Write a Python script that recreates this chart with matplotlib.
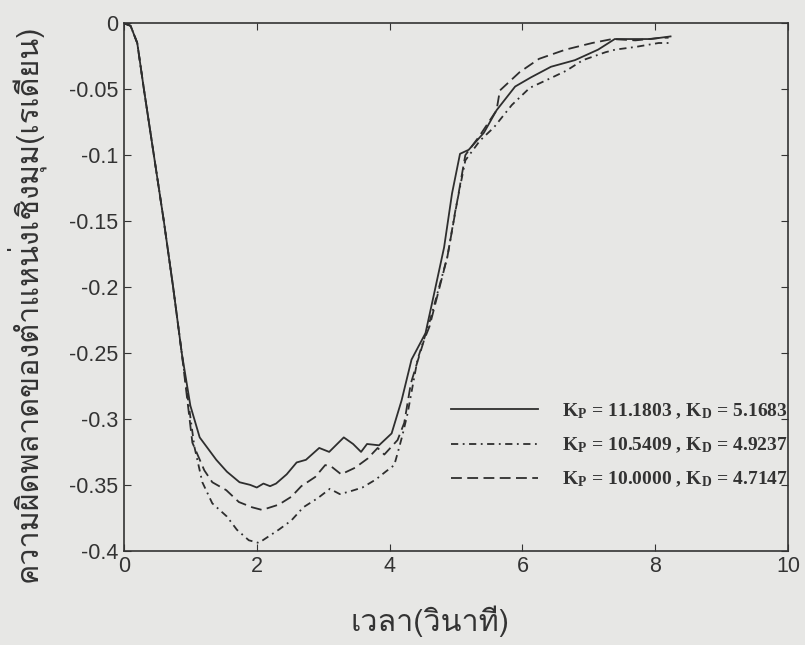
import matplotlib
matplotlib.use('Agg')
import matplotlib.pyplot as plt
from matplotlib import font_manager, ft2font

# Data (time in s, angular position error in rad)
t_solid = [0, 0.1, 0.2, 0.3, 0.45, 0.6, 0.74, 0.87, 1.0, 1.14, 1.39, 1.55, 1.74, 1.9, 2.0, 2.1, 2.2, 2.29,
           2.45, 2.6, 2.74, 2.94, 3.09, 3.31, 3.45, 3.57, 3.66, 3.84, 4.03, 4.18, 4.33, 4.54, 4.67,
           4.82, 4.94, 5.06, 5.19, 5.42, 5.61, 5.89, 6.13, 6.43, 6.79, 7.14, 7.39, 7.93, 8.23]
e_solid = [0, -0.002, -0.015, -0.05, -0.1, -0.15, -0.2, -0.25, -0.29, -0.314, -0.331, -0.34, -0.348, -0.35,
           -0.352, -0.349, -0.351, -0.349, -0.342, -0.333, -0.331, -0.322, -0.325, -0.314, -0.319, -0.325,
           -0.319, -0.320, -0.311, -0.286, -0.255, -0.235, -0.205, -0.170, -0.129, -0.099, -0.096, -0.083,
           -0.066, -0.048, -0.041, -0.033, -0.028, -0.020, -0.012, -0.012, -0.010]

t_dashdot = [0, 0.1, 0.2, 0.3, 0.45, 0.6, 0.74, 0.87, 1.06, 1.18, 1.33, 1.55, 1.70, 1.88, 2.03, 2.18, 2.33,
             2.52, 2.70, 2.92, 3.10, 3.25, 3.40, 3.59, 3.79, 3.94, 4.07, 4.12, 4.19, 4.27, 4.42, 4.61,
             4.87, 4.99, 5.14, 5.36, 5.57, 5.84, 6.11, 6.41, 6.66, 6.91, 7.25, 7.4, 7.7, 8.05, 8.2]
e_dashdot = [0, -0.002, -0.015, -0.05, -0.1, -0.15, -0.2, -0.25, -0.321, -0.348, -0.364, -0.374, -0.384,
             -0.392, -0.394, -0.389, -0.384, -0.377, -0.367, -0.360, -0.353, -0.357, -0.355, -0.352, -0.346,
             -0.340, -0.335, -0.326, -0.313, -0.296, -0.255, -0.225, -0.177, -0.142, -0.104, -0.089,
             -0.079, -0.062, -0.049, -0.042, -0.036, -0.028, -0.022, -0.020, -0.018, -0.015, -0.015]

t_dashed = [0, 0.1, 0.2, 0.3, 0.45, 0.6, 0.74, 0.87, 1.03, 1.21, 1.33, 1.54, 1.73, 1.93, 2.08, 2.33, 2.52,
            2.67, 2.88, 3.03, 3.12, 3.27, 3.48, 3.67, 3.82, 3.92, 4.12, 4.22, 4.32, 4.52, 4.6, 4.87,
            5.0, 5.14, 5.36, 5.61, 5.66, 5.96, 6.25, 6.65, 7.05, 7.35, 7.7, 8.1, 8.2]
e_dashed = [0, -0.002, -0.015, -0.05, -0.1, -0.15, -0.2, -0.25, -0.318, -0.339, -0.348, -0.354, -0.363,
            -0.367, -0.369, -0.365, -0.359, -0.351, -0.344, -0.335, -0.336, -0.342, -0.337, -0.330, -0.322,
            -0.327, -0.316, -0.303, -0.273, -0.240, -0.230, -0.177, -0.140, -0.100, -0.085, -0.066,
            -0.051, -0.037, -0.027, -0.020, -0.015, -0.012, -0.013, -0.011, -0.011]

labels = [r'K$_\mathregular{P}$ = 11.1803 , K$_\mathregular{D}$ = 5.1683',
          r'K$_\mathregular{P}$ = 10.5409 , K$_\mathregular{D}$ = 4.9237',
          r'K$_\mathregular{P}$ = 10.0000 , K$_\mathregular{D}$ = 4.7147']

xlabel = 'เวลา(วินาที)'
ylabel = 'ความผิดพลาดของตำแหน่งเชิงมุม(เรเดียน)'


def thai_font():
    # look for any installed family that has Thai glyphs
    for f in font_manager.fontManager.ttflist:
        try:
            if 0x0E27 in ft2font.FT2Font(f.fname).get_charmap():
                return f.name
        except Exception:
            pass
    return None


thai = thai_font()
thai_family = [thai, 'DejaVu Sans'] if thai else ['DejaVu Sans']

plt.rcParams['font.family'] = ['Liberation Sans', 'DejaVu Sans']
plt.rcParams['mathtext.fontset'] = 'stix'

bg = '#e7e7e5'
ink = '#2e2e2e'
fig = plt.figure(figsize=(8.05, 6.45), dpi=100, facecolor=bg)
ax = fig.add_axes([0.154, 0.146, 0.825, 0.818], facecolor=bg)

ax.plot(t_solid, e_solid, color=ink, lw=1.3, ls='-', label=labels[0])
ax.plot(t_dashdot, e_dashdot, color=ink, lw=1.3, ls=(0, (4, 2.5, 1, 2.5)), label=labels[1])
ax.plot(t_dashed, e_dashed, color=ink, lw=1.3, ls=(0, (6, 3)), label=labels[2])

ax.set_xlim(0, 10)
ax.set_ylim(-0.4, 0)
ax.set_xticks([0, 2, 4, 6, 8, 10])
ax.set_yticks([0, -0.05, -0.1, -0.15, -0.2, -0.25, -0.3, -0.35, -0.4])
ax.set_yticklabels(['0', '-0.05', '-0.1', '-0.15', '-0.2', '-0.25', '-0.3', '-0.35', '-0.4'])
ax.tick_params(direction='in', top=True, right=True, labelsize=15.5, length=5, color='#333333',
               labelcolor='#333333', pad=4)
for s in ax.spines.values():
    s.set_color('#333333')
    s.set_linewidth(1.2)

ax.set_xlabel(xlabel, fontsize=22, family=thai_family, color='#333333', va='center')
ax.xaxis.set_label_coords(0.46, -0.134)
ax.set_ylabel(ylabel, fontsize=22, family=thai_family, color='#333333', va='center')
ax.yaxis.set_label_coords(-0.149, 0.47)

leg = ax.legend(loc='center left', bbox_to_anchor=(0.466, 0.2), frameon=False, handlelength=4.5,
                handletextpad=1.2, labelspacing=0.75,
                prop={'family': 'Liberation Serif', 'size': 14, 'weight': 'bold'})
for txt in leg.get_texts():
    txt.set_color('#333333')

plt.savefig('out.png', dpi=100, facecolor=bg)
